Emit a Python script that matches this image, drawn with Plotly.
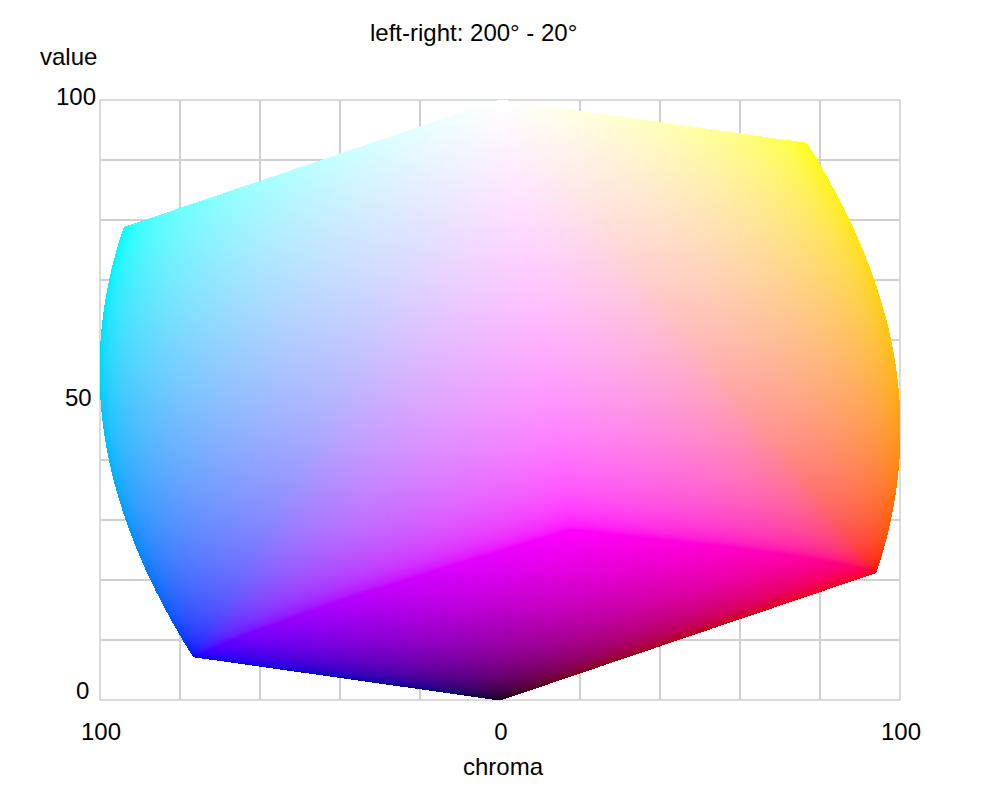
import numpy as np
import plotly.graph_objects as go

# Text and axis values
TITLE = "left-right: 200° - 20°"
X_TITLE = "chroma"
Y_TITLE = "value"
X_GRID = [-100, -80, -60, -40, -20, 0, 20, 40, 60, 80, 100]
X_LABELS = ["100", "", "", "", "", "0", "", "", "", "", "100"]
Y_GRID = [0, 10, 20, 30, 40, 50, 60, 70, 80, 90, 100]
Y_LABEL_VALUES = [100, 50, 0]
Y_LABEL_TEXT = ["100", "50", "0"]

# The colour field is not a list of readings: it is the RGB cube's three visible
# faces, mapped by value = luminance and chroma = (max-min)*cos(hue-20 deg).
# These constants reproduce the corner positions
# (red 94/21, yellow 77/93, magenta 17/28, cyan -94/79, blue -77/7).
LUMA_WEIGHTS = [0.2126, 0.7152, 0.0722]
RIGHT_HUE = 20.0
FACE_SAMPLES = 1700


def face_points(fixed_axis, fixed_value):
    s = np.linspace(0, 1, FACE_SAMPLES)
    a, b = np.meshgrid(s, s)
    channels = [a, b]
    channels.insert(fixed_axis, np.full_like(a, fixed_value))
    return [c.ravel() for c in channels]


def hue_of(r, g, b):
    hi = np.maximum(np.maximum(r, g), b)
    lo = np.minimum(np.minimum(r, g), b)
    d = np.where(hi > lo, hi - lo, 1.0)
    h = np.where(hi == r, ((g - b) / d) % 6,
                 np.where(hi == g, (b - r) / d + 2, (r - g) / d + 4))
    return 60 * h, hi - lo


def encode(c):
    return np.where(c <= 0.0031308, 12.92 * c, 1.055 * np.power(c, 1 / 2.4) - 0.055)


W, H = 800, 600
pixels = np.zeros((H, W, 4), dtype=np.uint8)
for axis, value in [(1, 0.0), (0, 1.0), (2, 1.0)]:
    r, g, b = face_points(axis, value)
    hue, spread = hue_of(r, g, b)
    chroma = 100 * spread * np.cos(np.radians(hue - RIGHT_HUE))
    val = 100 * (LUMA_WEIGHTS[0] * r + LUMA_WEIGHTS[1] * g + LUMA_WEIGHTS[2] * b)
    col = np.clip(((chroma + 100) / 200 * W).astype(int), 0, W - 1)
    row = np.clip((val / 100 * H).astype(int), 0, H - 1)
    pixels[row, col, 0] = np.round(255 * encode(r))
    pixels[row, col, 1] = np.round(255 * encode(g))
    pixels[row, col, 2] = np.round(255 * encode(b))
    pixels[row, col, 3] = 255

fig = go.Figure(go.Image(
    z=pixels.tolist(), colormodel="rgba256",
    x0=-100 + 100 / W, dx=200 / W, y0=50 / H, dy=100 / H,
    hoverinfo="skip",
))

FONT = "Liberation Sans, Arial, sans-serif"
GRID = "#d0d0d0"
fig.update_layout(
    width=992, height=792, autosize=False,
    margin=dict(l=92, r=100, t=92, b=100),
    paper_bgcolor="white", plot_bgcolor="white",
    font=dict(family=FONT, size=24, color="black"),
    showlegend=False,
    xaxis=dict(range=[-100, 100], tickmode="array", tickvals=X_GRID, ticktext=X_LABELS,
               showgrid=True, gridcolor=GRID, gridwidth=1.5, zeroline=False,
               showline=False, ticks="", ticklabelstandoff=15, ticklabelshift=1,
               constrain="range", scaleanchor=False),
    yaxis=dict(range=[0, 100], tickmode="array", tickvals=Y_GRID, showticklabels=False,
               showgrid=True, gridcolor=GRID, gridwidth=1.5, zeroline=False,
               showline=False, ticks="", autorange=False,
               constrain="range", scaleanchor=False),
)
fig.add_shape(type="rect", x0=0, x1=1, y0=0, y1=1, xref="paper", yref="paper",
              line=dict(color=GRID, width=1.5), layer="below")
for v, t, yshift, xshift in zip(Y_LABEL_VALUES, Y_LABEL_TEXT, [4, 3, 10], [-2, -6, -9]):
    fig.add_annotation(x=-100, y=v, text=t, xanchor="right", yanchor="middle",
                       xshift=xshift, yshift=yshift, showarrow=False, xref="x", yref="y")
fig.add_annotation(x=0.4735, y=1, xref="paper", yref="paper", text=TITLE, showarrow=False,
                   xanchor="center", yanchor="middle", yshift=68, xshift=-5)
fig.add_annotation(x=-100, y=100, xref="x", yref="y", text=Y_TITLE, showarrow=False,
                   xanchor="right", yanchor="middle", xshift=-1, yshift=44)
fig.add_annotation(x=0, y=0, xref="x", yref="y", text=X_TITLE, showarrow=False,
                   xanchor="center", yanchor="middle", xshift=3, yshift=-66)
fig.write_html("out.html")
